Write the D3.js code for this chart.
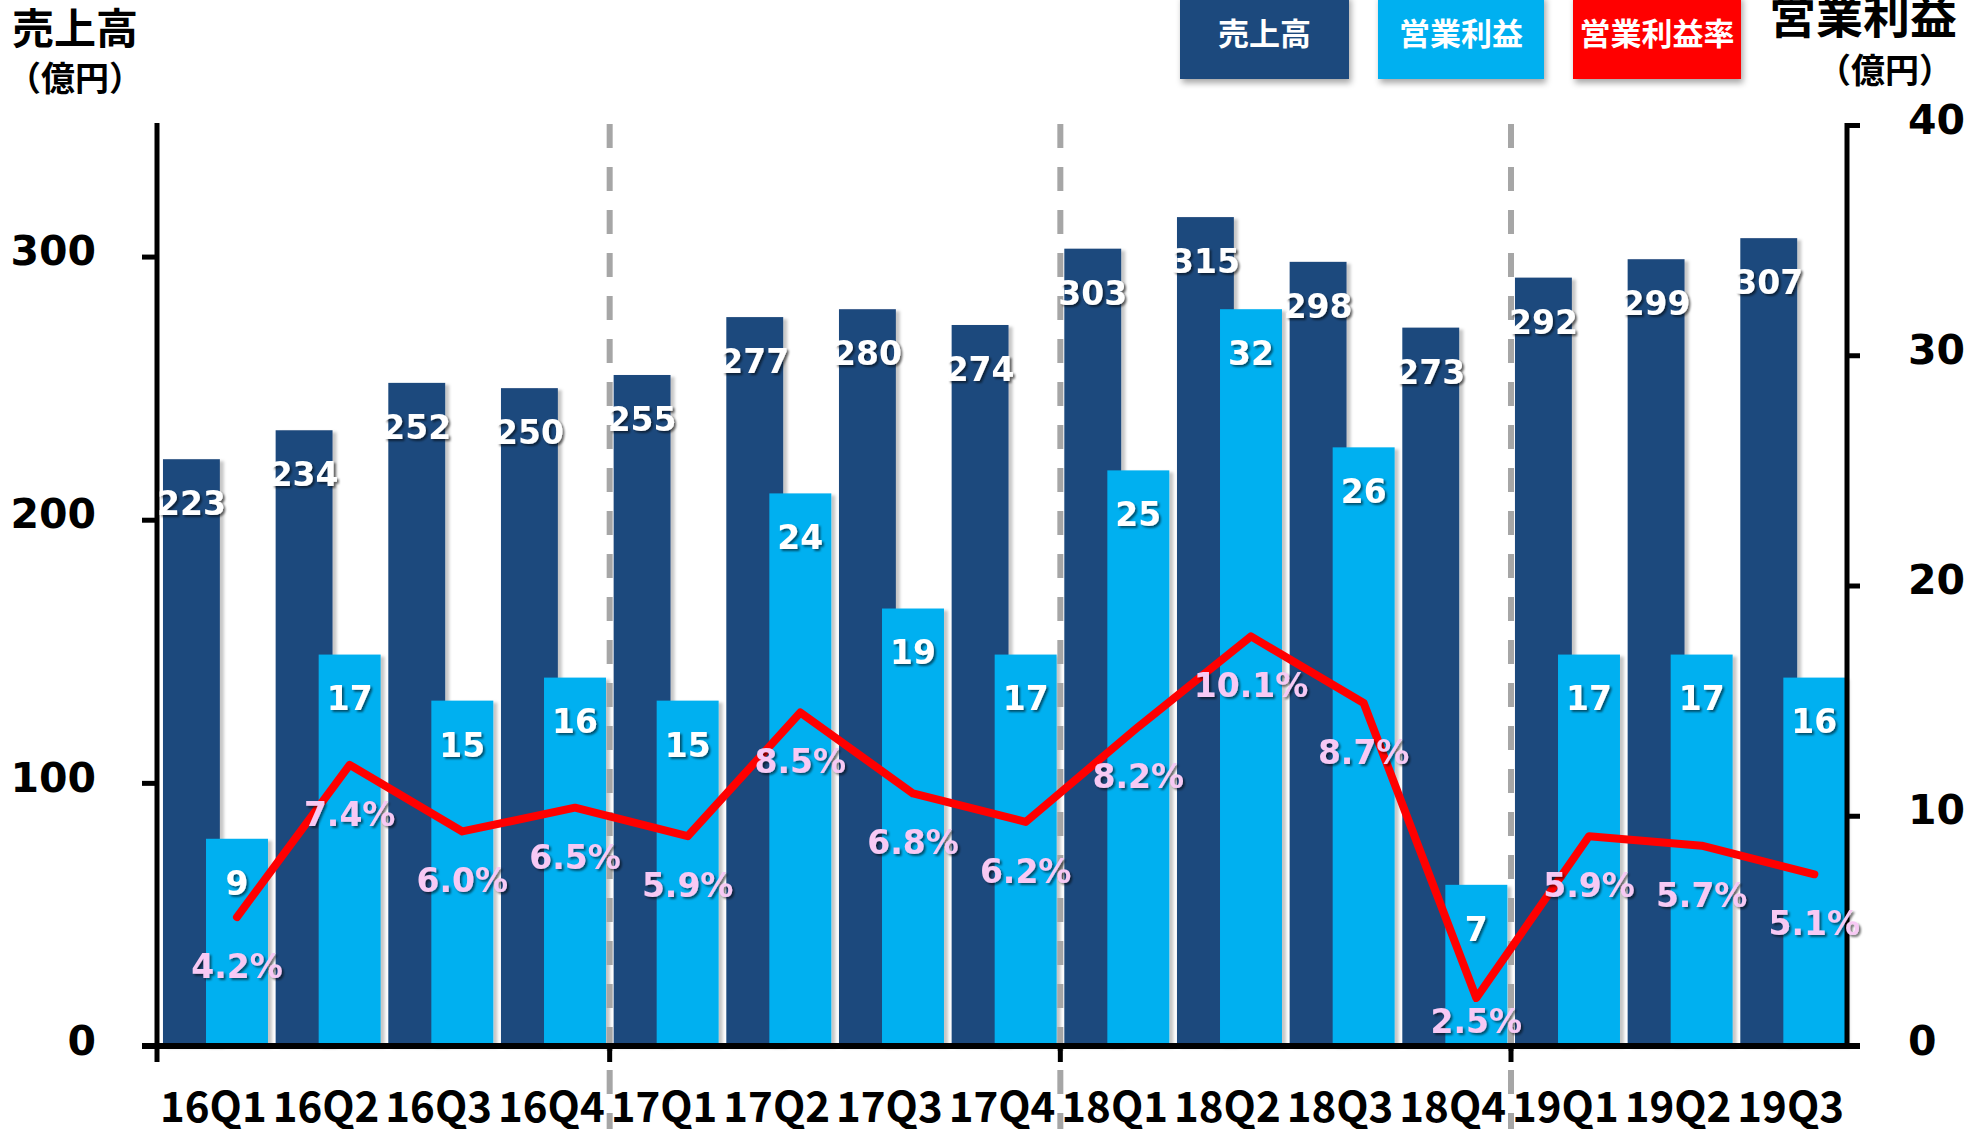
<!DOCTYPE html>
<html><head><meta charset="utf-8">
<script src="https://cdn.jsdelivr.net/npm/d3@7"></script>
<style>html,body{margin:0;padding:0;background:#fff;overflow:hidden}</style>
</head><body>
<svg id="chart" width="1964" height="1129"></svg>
<script>
// ---- data ----
const categories = ["16Q1","16Q2","16Q3","16Q4","17Q1","17Q2","17Q3","17Q4","18Q1","18Q2","18Q3","18Q4","19Q1","19Q2","19Q3"];
const salesValues = [223,234,252,250,255,277,280,274,303,315,298,273,292,299,307];
const profitValues = [9,17,15,16,15,24,19,17,25,32,26,7,17,17,16];
const marginValues = [4.2,7.4,6.0,6.5,5.9,8.5,6.8,6.2,8.2,10.1,8.7,2.5,5.9,5.7,5.1];
const leftTicks = [0,100,200,300];
const rightTicks = [0,10,20,30,40];
const yearStartIndices = [0,4,8,12];
const dividerIndices = [4,8,12];
const legendLabels = ["売上高","営業利益","営業利益率"];
const leftTitle = "売上高";
const rightTitle = "営業利益";
const unitLabel = "（億円）";

// ---- layout ----
const W = 1964, H = 1129;
const plot = {left:157, right:1847, top:125, bottom:1046};
const colors = {sales:"#1F497D", profit:"#00B0F0", margin:"#FF0000", marginLabel:"#F7C9F4", divider:"#A6A6A6"};
const numFont = "'DejaVu Sans', Verdana, sans-serif";
const jpFont = "'Noto Sans CJK JP', 'Noto Sans', sans-serif";

const svg = d3.select("#chart");
const defs = svg.append("defs");
defs.append("filter").attr("id","barShadow").attr("x","-20%").attr("y","-10%").attr("width","140%").attr("height","130%")
  .append("feDropShadow").attr("dx",4).attr("dy",2).attr("stdDeviation",1.6).attr("flood-color","#000").attr("flood-opacity",0.22);
defs.append("filter").attr("id","textShadow").attr("x","-20%").attr("y","-20%").attr("width","140%").attr("height","150%")
  .append("feDropShadow").attr("dx",2).attr("dy",2).attr("stdDeviation",1.3).attr("flood-color","#000").attr("flood-opacity",0.55);
defs.append("filter").attr("id","boxShadow").attr("x","-20%").attr("y","-20%").attr("width","140%").attr("height","150%")
  .append("feDropShadow").attr("dx",2).attr("dy",4).attr("stdDeviation",3).attr("flood-color","#000").attr("flood-opacity",0.35);

const x = d3.scaleBand().domain(categories).range([plot.left, plot.right]).paddingInner(0).paddingOuter(0);
const yL = d3.scaleLinear().domain([0,350]).range([plot.bottom, plot.top]);
const yR = d3.scaleLinear().domain([0,40]).range([plot.bottom, plot.top]);
const yM = d3.scaleLinear().domain([1.49,20.85]).range([plot.bottom, plot.top]);

const step = x.step();
const darkOff = step*0.053, darkW = step*0.505;
const lightOff = step*0.435, lightW = step*0.55;

// bars: sales
svg.append("g").selectAll("rect").data(salesValues).join("rect")
  .attr("x",(d,i)=>x(categories[i])+darkOff).attr("width",darkW)
  .attr("y",d=>yL(d)).attr("height",d=>plot.bottom-yL(d))
  .attr("fill",colors.sales).attr("filter","url(#barShadow)");
// bars: profit
svg.append("g").selectAll("rect").data(profitValues).join("rect")
  .attr("x",(d,i)=>x(categories[i])+lightOff).attr("width",lightW)
  .attr("y",d=>yR(d)).attr("height",d=>plot.bottom-yR(d))
  .attr("fill",colors.profit).attr("filter","url(#barShadow)");

// dividers
svg.append("g").selectAll("line").data(dividerIndices).join("line")
  .attr("x1",i=>x(categories[i])+2).attr("x2",i=>x(categories[i])+2)
  .attr("y1",124).attr("y2",H)
  .attr("stroke",colors.divider).attr("stroke-width",6).attr("stroke-dasharray","24,19");

// margin line
const cx = i => x(categories[i]) + lightOff + lightW/2;
svg.append("path").datum(marginValues)
  .attr("d", d3.line().x((d,i)=>cx(i)).y(d=>yM(d)))
  .attr("fill","none").attr("stroke",colors.margin).attr("stroke-width",8)
  .attr("stroke-linejoin","round").attr("stroke-linecap","round");

// axes
const axisColor = "#000";
const gL = svg.append("g").attr("transform",`translate(${plot.left},0)`)
  .call(d3.axisLeft(yL).tickValues(leftTicks).tickSize(15).tickPadding(46).tickSizeOuter(0));
gL.select(".domain").remove();
gL.selectAll(".tick line").attr("stroke",axisColor).attr("stroke-width",5);
gL.selectAll(".tick text").attr("font-family",numFont).attr("font-weight","bold").attr("font-size",41).attr("fill","#000").attr("dy","0.2em");
const gR = svg.append("g").attr("transform",`translate(${plot.right},0)`)
  .call(d3.axisRight(yR).tickValues(rightTicks).tickSize(13).tickPadding(48).tickSizeOuter(0));
gR.select(".domain").remove();
gR.selectAll(".tick line").attr("stroke",axisColor).attr("stroke-width",5);
gR.selectAll(".tick text").attr("font-family",numFont).attr("font-weight","bold").attr("font-size",41).attr("fill","#000").attr("dy","0.2em");
const gB = svg.append("g").attr("transform",`translate(0,${plot.bottom})`)
  .call(d3.axisBottom(x).tickSize(0).tickPadding(0));
gB.select(".domain").remove();
gB.selectAll(".tick text").attr("font-family",jpFont).attr("font-weight","bold").attr("font-size",42)
  .attr("fill","#000").attr("y",76).attr("dy",0);
svg.append("g").selectAll("line").data(yearStartIndices).join("line")
  .attr("x1",i=>i===0?plot.left:x(categories[i])+2).attr("x2",i=>i===0?plot.left:x(categories[i])+2)
  .attr("y1",plot.bottom).attr("y2",plot.bottom+16)
  .attr("stroke",axisColor).attr("stroke-width",5);
svg.append("line").attr("x1",plot.left).attr("x2",plot.left).attr("y1",plot.top-2).attr("y2",plot.bottom)
  .attr("stroke",axisColor).attr("stroke-width",5);
svg.append("line").attr("x1",plot.right).attr("x2",plot.right).attr("y1",plot.top-2).attr("y2",plot.bottom)
  .attr("stroke",axisColor).attr("stroke-width",5);
svg.append("line").attr("x1",plot.left-15).attr("x2",plot.right+13).attr("y1",plot.bottom).attr("y2",plot.bottom)
  .attr("stroke",axisColor).attr("stroke-width",6);

// data labels
const lbl = svg.append("g").attr("font-family",numFont).attr("font-weight","bold").attr("font-size",33)
  .attr("text-anchor","middle").attr("filter","url(#textShadow)");
lbl.selectAll("text.s").data(salesValues).join("text").attr("class","s")
  .attr("x",(d,i)=>x(categories[i])+darkOff+darkW/2).attr("y",d=>yL(d)+44).attr("dy","0.36em")
  .attr("fill","#fff").text(d=>d);
lbl.selectAll("text.p").data(profitValues).join("text").attr("class","p")
  .attr("x",(d,i)=>cx(i)).attr("y",d=>yR(d)+44).attr("dy","0.36em")
  .attr("fill","#fff").text(d=>d);
lbl.selectAll("text.m").data(marginValues).join("text").attr("class","m")
  .attr("x",(d,i)=>cx(i)).attr("y",d=>Math.min(yM(d)+49, plot.bottom-25)).attr("dy","0.36em")
  .attr("fill",colors.marginLabel).text(d=>d.toFixed(1)+"%");

// titles
svg.append("text").attr("x",12).attr("y",44).attr("font-family",jpFont).attr("font-weight","bold")
  .attr("font-size",42).attr("fill","#000").text(leftTitle);
svg.append("text").attr("x",75).attr("y",79).attr("dy","0.36em").attr("text-anchor","middle").attr("font-family",jpFont).attr("font-weight","bold")
  .attr("font-size",34).attr("fill","#000").text(unitLabel);
svg.append("text").attr("x",1863).attr("y",33).attr("text-anchor","middle").attr("font-family",jpFont).attr("font-weight","bold")
  .attr("font-size",47).attr("fill","#000").text(rightTitle);
svg.append("text").attr("x",1885).attr("y",71).attr("dy","0.36em").attr("text-anchor","middle").attr("font-family",jpFont).attr("font-weight","bold")
  .attr("font-size",34).attr("fill","#000").text(unitLabel);

// legend
const legendBoxes = [{x:1180,w:169,c:colors.sales},{x:1378,w:166,c:colors.profit},{x:1573,w:168,c:colors.margin}];
const lg = svg.append("g");
lg.selectAll("rect").data(legendLabels).join("rect")
  .attr("x",(d,i)=>legendBoxes[i].x).attr("y",-5).attr("width",(d,i)=>legendBoxes[i].w).attr("height",84)
  .attr("fill",(d,i)=>legendBoxes[i].c).attr("filter","url(#boxShadow)");
lg.selectAll("text").data(legendLabels).join("text")
  .attr("x",(d,i)=>legendBoxes[i].x+legendBoxes[i].w/2).attr("y",34).attr("dy","0.36em")
  .attr("text-anchor","middle").attr("font-family",jpFont).attr("font-weight","bold").attr("font-size",31)
  .attr("fill","#fff").text(d=>d);
</script>
</body></html>
